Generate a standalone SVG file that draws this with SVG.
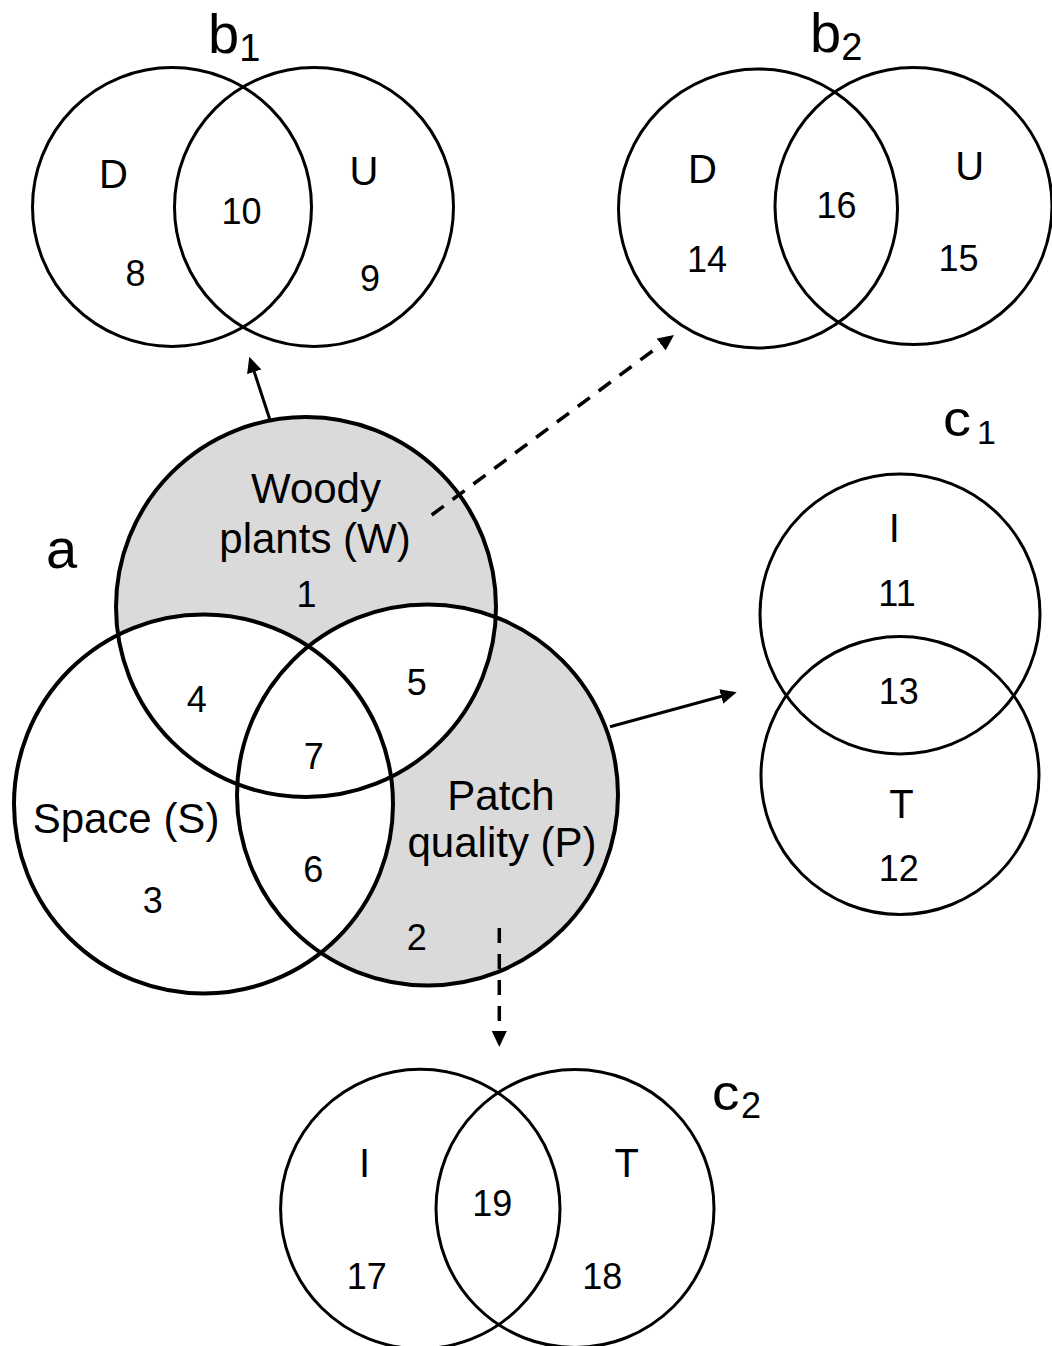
<svg xmlns="http://www.w3.org/2000/svg" width="1052" height="1346" viewBox="0 0 1052 1346">
<style>
  text { font-family: "Liberation Sans", Arial, sans-serif; fill: #000; }
  .lbl { font-size: 42px; text-anchor: middle; }
  .num { font-size: 36px; text-anchor: middle; }
  .set { font-size: 40px; text-anchor: middle; }
  .big { font-size: 56px; }
  .cbig { font-size: 50px; }
  .ring { fill: none; stroke: #000; stroke-width: 3; }
  .ring-main { fill: none; stroke: #000; stroke-width: 4; }
  .shade { fill: #dadada; }
  .blank { fill: #ffffff; }
  .conn { fill: none; stroke: #000; stroke-width: 3; marker-end: url(#head); }
  .dashed { stroke-dasharray: 15 11; stroke-width: 3.5; }
</style>
<defs>
  <marker id="head" markerUnits="userSpaceOnUse" markerWidth="16" markerHeight="16" refX="12" refY="7.5" orient="auto">
    <path d="M0,0 L16,7.5 L0,15 z" fill="#000"/>
  </marker>
  <clipPath id="clipW"><circle cx="306" cy="607" r="190"/></clipPath>
</defs>

<!-- Main diagram a -->
<g id="node-a">
  <circle class="shade" cx="306" cy="607" r="190"/>
  <circle class="shade" cx="427.5" cy="795" r="190.5"/>
  <circle class="blank" cx="203.5" cy="804" r="189.5"/>
  <circle class="blank" cx="427.5" cy="795" r="190.5" clip-path="url(#clipW)"/>
  <g id="node-W"><circle class="ring-main" cx="306" cy="607" r="190"/></g>
  <g id="node-S"><circle class="ring-main" cx="203.5" cy="804" r="189.5"/></g>
  <g id="node-P"><circle class="ring-main" cx="427.5" cy="795" r="190.5"/></g>
  <text class="big" x="46" y="568">a</text>
  <text class="lbl" x="316" y="503">Woody</text>
  <text class="lbl" x="315" y="553">plants (W)</text>
  <text class="lbl" x="126" y="833">Space (S)</text>
  <text class="lbl" x="501" y="810">Patch</text>
  <text class="lbl" x="502" y="857">quality (P)</text>
  <text class="num" x="306.5" y="607">1</text>
  <text class="num" x="416.7" y="950">2</text>
  <text class="num" x="152.8" y="913">3</text>
  <text class="num" x="196.7" y="712">4</text>
  <text class="num" x="416.7" y="695">5</text>
  <text class="num" x="313.3" y="882">6</text>
  <text class="num" x="313.8" y="769">7</text>
</g>

<!-- b1 -->
<g id="node-b1">
  <circle class="ring" cx="172" cy="207" r="139.5"/>
  <circle class="ring" cx="314" cy="207" r="139.5"/>
  <text class="big" x="208" y="53">b<tspan font-size="38" dy="8">1</tspan></text>
  <text class="set" x="113.5" y="188">D</text>
  <text class="set" x="364" y="185">U</text>
  <text class="num" x="241.5" y="224">10</text>
  <text class="num" x="135.5" y="286">8</text>
  <text class="num" x="370" y="291">9</text>
</g>

<!-- b2 -->
<g id="node-b2">
  <circle class="ring" cx="758" cy="208.5" r="139.5"/>
  <circle class="ring" cx="913.5" cy="206" r="138.5"/>
  <text class="big" x="810" y="52">b<tspan font-size="38" dy="8">2</tspan></text>
  <text class="set" x="702.5" y="182.7">D</text>
  <text class="set" x="969.7" y="180">U</text>
  <text class="num" x="836.5" y="218.3">16</text>
  <text class="num" x="707" y="271.7">14</text>
  <text class="num" x="958.5" y="270.7">15</text>
</g>

<!-- c1 -->
<g id="node-c1">
  <circle class="ring" cx="900" cy="614" r="140"/>
  <circle class="ring" cx="900" cy="775.5" r="139"/>
  <text class="cbig" transform="translate(943,435.5) scale(1.12,1)">c</text>
  <text x="977" y="444" font-size="34">1</text>
  <text class="set" x="894.4" y="542">I</text>
  <text class="num" x="897" y="606">11</text>
  <text class="num" x="898.7" y="704.3">13</text>
  <text class="set" x="901.4" y="818">T</text>
  <text class="num" x="898.7" y="880.7">12</text>
</g>

<!-- c2 -->
<g id="node-c2">
  <circle class="ring" cx="420.3" cy="1209" r="139.7"/>
  <circle class="ring" cx="575" cy="1208.5" r="139"/>
  <text class="cbig" transform="translate(712,1110) scale(1.1,1)">c</text>
  <text x="741" y="1118" font-size="36">2</text>
  <text class="set" x="364.5" y="1176.7">I</text>
  <text class="set" x="626.7" y="1176.7">T</text>
  <text class="num" x="492.3" y="1216">19</text>
  <text class="num" x="366.7" y="1289.3">17</text>
  <text class="num" x="602.3" y="1289.3">18</text>
</g>

<!-- connectors -->
<g id="connectors">
  <path class="conn" d="M270,420 L250.5,360.5"/>
  <path class="conn dashed" d="M431.7,515 L670.8,337.4"/>
  <path class="conn" d="M610,726.7 L732.8,693.3"/>
  <path class="conn dashed" d="M499.3,928 L499.3,1043"/>
</g>
</svg>
